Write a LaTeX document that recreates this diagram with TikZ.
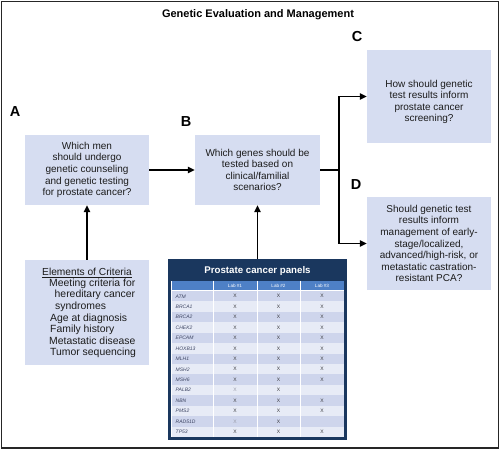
\documentclass[tikz,border=0pt]{standalone}
\usepackage{fontspec}
\setmainfont{Liberation Sans}
\usetikzlibrary{arrows.meta}
\definecolor{boxfill}{RGB}{214,221,241}
\definecolor{navy}{RGB}{26,55,94}
\definecolor{hdrblue}{RGB}{78,128,198}
\definecolor{rowdark}{RGB}{206,213,236}
\definecolor{rowlight}{RGB}{231,235,246}
\definecolor{txt}{RGB}{28,28,28}
\definecolor{genetxt}{RGB}{60,68,98}
\definecolor{xdark}{RGB}{55,55,60}
\definecolor{xlight}{RGB}{150,152,165}
\begin{document}
\begin{tikzpicture}[x=1pt,y=-1pt,
  qbox/.style={fill=boxfill, draw=none, minimum width=124pt, inner sep=0pt},
  qtext/.style={align=center, inner sep=0pt, text=txt, font=\fontsize{10}{11.6}\selectfont},
  lab/.style={inner sep=0pt, text=black, font=\fontsize{14.5}{15}\selectfont\bfseries},
  crittext/.style={anchor=base west, inner sep=0pt, text=txt, font=\fontsize{10.4}{11.5}\selectfont},
  arr/.style={-{Triangle[length=7pt,width=6.5pt]}, line width=1.4pt},
  conn/.style={line width=1.4pt},
  genetext/.style={anchor=west, inner sep=0pt, text height=3.6pt, text depth=0pt, text=genetxt, font=\fontsize{5}{5}\selectfont\itshape},
  xmark/.style={inner sep=0pt, text height=3.4pt, text depth=0pt, font=\fontsize{5}{5}\selectfont},
  hdrtext/.style={inner sep=0pt, text height=3.4pt, text depth=0pt, text=white, font=\fontsize{4.6}{5}\selectfont}
]
\useasboundingbox (0,0) rectangle (500,450);
% outer frame
\draw[line width=1.2pt, black!85] (1.4,1.6) rectangle (498.8,448);

% title
\node[inner sep=0pt, font=\fontsize{11}{12}\selectfont\bfseries] (title) at (258,15) {Genetic Evaluation and Management};

% boxes
\node[qbox, minimum height=70pt] (A) at (87,170) {};
\node[qtext] (At) at (87,170) {Which men\\should undergo\\genetic counseling\\and genetic testing\\for prostate cancer?};
\node[qbox, minimum width=125pt, minimum height=70pt] (B) at (257.5,170) {};
\node[qtext] (Bt) at (257.5,170) {Which genes should be\\tested based on\\clinical/familial\\scenarios?};
\node[qbox, minimum height=93pt] (C) at (429,96.5) {};
\node[qtext] (Ct) at (429,102) {How should genetic\\test results inform\\prostate cancer\\screening?};
\node[qbox, minimum height=93pt] (D) at (429,243.5) {};
\node[qtext] (Dt) at (429,243.5) {Should genetic test\\results inform\\management of early-\\stage/localized,\\advanced/high-risk, or\\metastatic castration-\\resistant PCA?};

% letter labels
\node[lab] (LA) at (15,112) {A};
\node[lab] (LB) at (186,122) {B};
\node[lab] (LC) at (357,37) {C};
\node[lab] (LD) at (356,185) {D};

% criteria box
\node[qbox, minimum height=105pt] (crit) at (87,312.5) {};
\node[inner sep=0pt, anchor=base, text=txt, font=\fontsize{10.2}{11.5}\selectfont] (c0) at (87,275.7) {\underline{Elements of Criteria}};
\node[crittext] (c1) at (49,286.7) {Meeting criteria for};
\node[crittext] (c2) at (54.5,297.7) {hereditary cancer};
\node[crittext] (c3) at (55,309.7) {syndromes};
\node[crittext] (c4) at (50,321.7) {Age at diagnosis};
\node[crittext] (c5) at (50,332.7) {Family history};
\node[crittext] (c6) at (49,344.7) {Metastatic disease};
\node[crittext] (c7) at (50,355.7) {Tumor sequencing};

% table
\node[fill=navy, minimum width=179pt, minimum height=181pt, inner sep=0pt] (tbl) at (257.5,349.5) {};
\node[inner sep=0pt, text=white, font=\fontsize{9.7}{10}\selectfont\bfseries] (tt) at (257.5,270.5) {Prostate cancer panels};
\fill[white] (171,280.5) rectangle (344,437);
\fill[hdrblue] (172,281) rectangle (344,290);
\foreach \i in {0,...,13}{
  \pgfmathsetmacro{\rtop}{291+\i*10.43}
  \pgfmathsetmacro{\rbot}{291+(\i+1)*10.43}
  \pgfmathtruncatemacro{\rpar}{mod(\i,2)}
  \ifnum\rpar=0 \fill[rowdark] (172,\rtop) rectangle (344,\rbot); \else \fill[rowlight] (172,\rtop) rectangle (344,\rbot); \fi
}
\foreach \xx in {213,257,300}{
  \draw[white, line width=0.9pt] (\xx,280.5) -- (\xx,437);
}
\node[hdrtext] (h1) at (235,285.5) {Lab \#1};
\node[hdrtext] (h2) at (278.5,285.5) {Lab \#2};
\node[hdrtext] (h3) at (322,285.5) {Lab \#3};
\foreach \g/\ca/\three [count=\i from 0] in {
  ATM/xdark/1, BRCA1/xdark/1, BRCA2/xdark/1, CHEK2/xdark/1, EPCAM/xdark/1,
  HOXB13/xdark/1, MLH1/xdark/1, MSH2/xdark/1, MSH6/xdark/1, PALB2/xlight/0,
  NBN/xdark/1, PMS2/xdark/1, RAD51D/xlight/0, TP53/xdark/1}{
  \pgfmathsetmacro{\yc}{291+(\i+0.5)*10.43}
  \node[genetext] (g\i) at (175.5,\yc) {\g};
  \node[xmark, text=\ca] (xa\i) at (235,\yc) {X};
  \node[xmark, text=xdark] (xb\i) at (278.5,\yc) {X};
  \ifnum\three=1 \node[xmark, text=xdark] (xc\i) at (322,\yc) {X}; \fi
}

% connectors
\coordinate (j) at (339,170);
\draw[arr] (A) -- (B);
\draw[arr] (crit) -- (A);
\draw[arr] (tbl) -- (B);
\draw[conn] (B) -- (j);
\draw[arr] (j) |- (C);
\draw[arr] (j) |- (D);
\end{tikzpicture}
\end{document}
